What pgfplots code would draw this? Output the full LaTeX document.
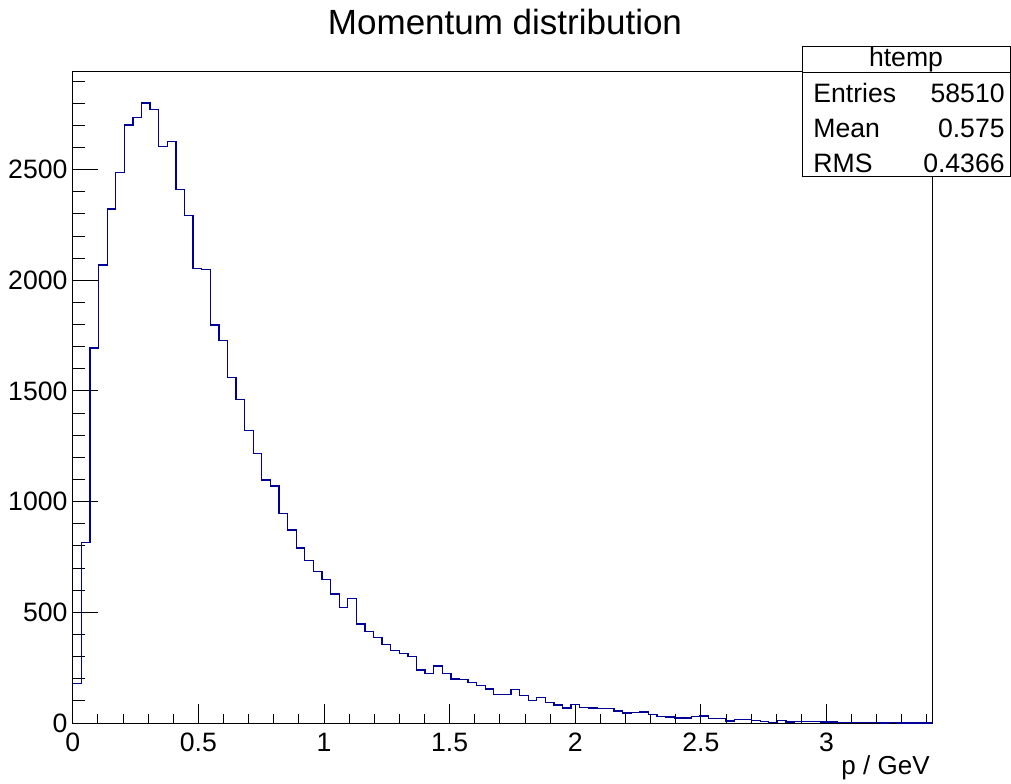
\documentclass[border=0pt]{standalone}
\usepackage{fontspec}
\setmainfont{Liberation Sans}
\usepackage{pgfplots}
\usepackage{pgfplotstable}
\pgfplotsset{compat=1.18}
\definecolor{histblue}{RGB}{0,0,153}
\pgfplotstableread{
x y
0.0000 180
0.0342 817
0.0684 1694
0.1026 2069
0.1368 2322
0.1710 2486
0.2052 2702
0.2394 2737
0.2736 2801
0.3078 2773
0.3420 2603
0.3762 2628
0.4104 2409
0.4446 2294
0.4788 2053
0.5130 2050
0.5472 1798
0.5814 1727
0.6156 1561
0.6498 1461
0.6840 1321
0.7182 1218
0.7524 1098
0.7866 1071
0.8208 947
0.8550 872
0.8892 790
0.9234 733
0.9576 683
0.9918 647
1.0260 583
1.0602 523
1.0944 562
1.1286 447
1.1628 414
1.1970 387
1.2312 355
1.2654 328
1.2996 313
1.3338 301
1.3680 239
1.4022 225
1.4364 258
1.4706 225
1.5048 199
1.5390 197
1.5732 183
1.6074 170
1.6416 154
1.6758 128
1.7100 128
1.7442 151
1.7784 124
1.8126 103
1.8468 115
1.8810 94
1.9152 82
1.9494 68
1.9836 83
2.0178 69
2.0520 68
2.0862 67
2.1204 67
2.1546 54
2.1888 45
2.2230 47
2.2572 50
2.2914 38
2.3256 29
2.3598 27
2.3940 23
2.4282 22
2.4624 29
2.4966 32
2.5308 20
2.5650 20
2.5992 9
2.6334 15
2.6676 15
2.7018 12
2.7360 6
2.7702 3
2.8044 12
2.8386 5
2.8728 6
2.9070 6
2.9412 6
2.9754 4
3.0096 4
3.0438 2
3.0780 2
3.1122 1
3.1464 1
3.1806 1
3.2148 0
3.2490 1
3.2832 0
3.3174 0
3.3516 0
3.3858 0
3.4200 0
}\histdata
\begin{document}
\begin{tikzpicture}
\useasboundingbox (0,0) rectangle (505.5pt,391.5pt);
\begin{axis}[
  at={(36.4pt,30pt)}, anchor=south west,
  scale only axis, width=429.6pt, height=325.5pt,
  xmin=0, xmax=3.42, ymin=0, ymax=2941,
  axis line style={line width=0.5pt},
  tick align=inside,
  xtick pos=left, ytick pos=left,
  xtick={0,0.5,1,1.5,2,2.5,3},
  minor xtick={0.1,0.2,0.3,0.4,0.6,0.7,0.8,0.9,1.1,1.2,1.3,1.4,1.6,1.7,1.8,1.9,2.1,2.2,2.3,2.4,2.6,2.7,2.8,2.9,3.1,3.2,3.3,3.4},
  ytick={0,500,1000,1500,2000,2500},
  minor ytick={100,200,300,400,600,700,800,900,1100,1200,1300,1400,1600,1700,1800,1900,2100,2200,2300,2400,2600,2700,2800,2900},
  xtick style={black, line width=0.5pt, /pgfplots/major tick length=9.3pt, /pgfplots/minor tick length=4.6pt},
  ytick style={black, line width=0.5pt, /pgfplots/major tick length=12.5pt, /pgfplots/minor tick length=6.2pt},
  scaled ticks=false,
  /pgf/number format/assume math mode=true,
  /pgf/number format/1000 sep={},
  ticklabel style={font=\fontsize{13.3}{14}\selectfont},
  xticklabel style={inner sep=0pt, yshift=-5pt},
  yticklabel style={inner sep=0pt, xshift=-2.5pt},
]
\addplot[const plot mark left, color=histblue, line width=0.65pt] table[x=x,y=y] {\histdata};
\end{axis}
% title
\node[font=\fontsize{17.5}{19}\selectfont] at (252.5pt,380.5pt) {Momentum distribution};
% x label
\node[anchor=east, inner sep=0pt, font=\fontsize{13}{14}\selectfont] at (465pt,7.5pt) {p / GeV};
% stats box
\draw[fill=white, line width=0.5pt] (401pt,303pt) rectangle (505pt,368pt);
\draw[line width=0.5pt] (401pt,355pt) -- (505pt,355pt);
\node[font=\fontsize{13.3}{14}\selectfont] at (453pt,361.5pt) {htemp};
\begin{scope}[every node/.style={inner sep=0pt, font=\fontsize{13.3}{14}\selectfont}]
\node[anchor=west] at (406.5pt,345pt) {Entries};
\node[anchor=west] at (406.5pt,327.5pt) {Mean};
\node[anchor=west] at (406.5pt,310pt) {RMS};
\node[anchor=east] at (502.5pt,345pt) {58510};
\node[anchor=east] at (502.5pt,327.5pt) {0.575};
\node[anchor=east] at (502.5pt,310pt) {0.4366};
\end{scope}
\end{tikzpicture}
\end{document}
